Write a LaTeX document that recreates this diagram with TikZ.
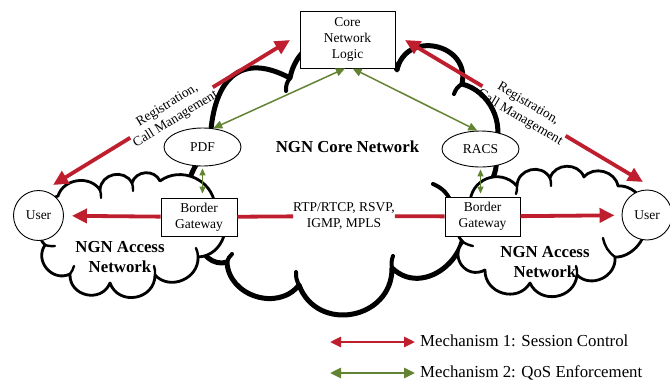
\documentclass[tikz,border=0pt]{standalone}
\usepackage{fontspec}
\setmainfont{Liberation Serif}
\usetikzlibrary{arrows.meta,shapes.geometric}
\definecolor{nred}{RGB}{190,30,45}
\definecolor{ngreen}{RGB}{98,132,50}
\newcommand\myfs{\fontsize{13.5}{16}\selectfont}
\newcommand\mybf{\fontsize{16.8}{20}\selectfont\bfseries}
\newcommand\mylg{\fontsize{16.8}{20}\selectfont}
\begin{document}
\begin{tikzpicture}[x=1pt,y=-1pt,
  corecloud/.style={draw=black, line width=5pt, fill=white, line join=round},
  acccloud/.style={draw=black, line width=2.8pt, fill=white, line join=round},
  corehook/.style={draw=black, line width=4pt, line cap=round},
  acchook/.style={draw=black, line width=2.4pt, line cap=round},
  box/.style={draw, fill=white, line width=0.9pt, align=center, font=\myfs, inner sep=1pt},
  ell/.style={ellipse, draw, fill=white, line width=0.9pt, font=\myfs, inner sep=0pt},
  usr/.style={circle, draw, fill=white, line width=0.9pt, font=\myfs, inner sep=0pt, minimum size=50pt},
  redarrow/.style={draw=nred, line width=3.8pt, -{Triangle[length=15pt,width=14pt]}},
  redline/.style={draw=nred, line width=3.8pt},
  garrow/.style={draw=ngreen, line width=1.5pt, {Triangle[length=9pt,width=8pt]}-{Triangle[length=9pt,width=8pt]}},
  gsarrow/.style={draw=ngreen, line width=1.3pt, {Triangle[length=7pt,width=6pt]}-{Triangle[length=7pt,width=6pt]}},
  legred/.style={draw=nred, line width=2.6pt, {Triangle[length=11pt,width=10pt]}-{Triangle[length=11pt,width=10pt]}},
  leggreen/.style={draw=ngreen, line width=2.6pt, {Triangle[length=11pt,width=10pt]}-{Triangle[length=11pt,width=10pt]}}
]
\useasboundingbox (0,0) rectangle (670,381);

% core cloud
\path[corecloud] (210,150)
  to[out=90, in=152, looseness=1.5] (290,78)
  to[bend left=75, looseness=1.3] (397,70)
  to[bend left=90, looseness=1.6] (462,84)
  to[bend left=50, looseness=1.0] (494,150)
  to[bend left=60, looseness=1.0] (452,205)
  to[bend left=90, looseness=1.5] (392,268)
  to[bend left=80, looseness=1.4] (299,285)
  to[bend left=70, looseness=1.15] (227,262)
  to[bend left=60, looseness=1.0] (200,240)
  to[bend left=50, looseness=0.9] cycle;
\draw[corehook] (290,78) to[bend right=20] (286,91);
\draw[corehook] (462,84) to[bend right=20] (454,94);
\draw[corehook] (452,205) to[bend right=25] (433,184);
\draw[corehook] (392,268) to[bend left=15] (393,256);
\draw[corehook] (299,285) to[bend left=15] (296,272);
\draw[corehook] (227,262) to[bend left=15] (232,254);

% left access cloud
\path[acccloud] (45,245)
  to[bend left=60, looseness=1.0] (58,196)
  to[bend left=65, looseness=1.1] (100,190)
  to[bend left=75, looseness=1.3] (132,183)
  to[bend left=70, looseness=1.2] (160,181)
  to[bend left=60, looseness=1.1] (215,205)
  to[bend left=70, looseness=1.2] (198,257)
  to[bend left=70, looseness=1.2] (155,275)
  to[bend left=80, looseness=1.4] (110,283)
  to[bend left=80, looseness=1.4] (70,274)
  to[bend left=75, looseness=1.3] cycle;
\draw[acchook] (100,190) to[bend left=10] (101,198);
\draw[acchook] (132,183) to[bend left=10] (133,191);
\draw[acchook] (198,257) to[bend right=10] (196,248);
\draw[acchook] (155,275) to[bend right=10] (154,266);
\draw[acchook] (70,274) to[bend right=10] (74,266);
\draw[acchook] (45,245) to[bend right=10] (55,246);

% right access cloud
\path[acccloud] (470,205)
  to[bend left=70, looseness=1.3] (517,186)
  to[bend left=75, looseness=1.3] (550,178)
  to[bend left=70, looseness=1.2] (584,177)
  to[bend left=65, looseness=1.1] (618,186)
  to[bend left=60, looseness=1.0] (645,225)
  to[bend left=50, looseness=0.9] (615,257)
  to[bend left=70, looseness=1.2] (577,275)
  to[bend left=75, looseness=1.3] (530,283)
  to[bend left=75, looseness=1.3] (485,270)
  to[bend left=80, looseness=1.5] (463,242)
  to[bend left=60, looseness=1.0] cycle;
\draw[acchook] (517,186) to[bend left=10] (516,194);
\draw[acchook] (550,178) to[bend left=10] (551,186);
\draw[acchook] (615,257) to[bend left=20] (603,238);
\draw[acchook] (577,275) to[bend right=10] (576,266);
\draw[acchook] (463,242) to[bend right=10] (473,246);

% nodes
\node[box, minimum width=95pt, minimum height=57pt] (cnl) at (347.5,39.5) {Core\\Network\\Logic};
\node[ell, minimum width=77pt, minimum height=38pt] (pdf) at (202.5,147) {PDF};
\node[ell, minimum width=77pt, minimum height=36pt] (racs) at (480.5,149) {RACS};
\node[box, minimum width=76pt, minimum height=38pt] (gwL) at (199,217) {Border\\Gateway};
\node[box, minimum width=75pt, minimum height=39pt] (gwR) at (482.5,216.5) {Border\\Gateway};
\node[usr] (userL) at (38.5,215.5) {User};
\node[usr] (userR) at (647,215) {User};

\node[font=\mybf] (ngncore) at (347.5,147) {NGN Core Network};
\node[font=\mybf, align=center] (accL) at (120,257) {NGN Access\\Network};
\node[font=\mybf, align=center] (accR) at (545,262) {NGN Access\\Network};

% green arrows
\draw[garrow] (cnl.265) -- (pdf.60);
\draw[garrow] (cnl.280) -- (racs.100);
\draw[gsarrow, shorten <=2pt, shorten >=4pt] (pdf.south) -- (pdf.south |- gwL.north);
\draw[gsarrow, shorten <=2pt, shorten >=3pt] (racs.south) -- (racs.south |- gwR.north);

% red arrows
\draw[redarrow, shorten >=8pt] (gwL) -- (userL);
\draw[redarrow, shorten >=7pt] (gwR) -- (userR);
\node[font=\myfs, align=center, inner sep=0pt] (rtp) at (344,216) {RTP/RTCP, RSVP,\\IGMP, MPLS};
\draw[redline] (gwL) -- (rtp);
\draw[redline] (rtp) -- (gwR);

\coordinate (la1) at (53,185);
\coordinate (la2) at (290,40);
\coordinate (ra1) at (405,40);
\coordinate (ra2) at (643,182);
\path (la1) -- node[sloped, font=\myfs, align=center, inner sep=0pt] (lblL) {Registration,\\Call Management} (la2);
\path (ra1) -- node[sloped, font=\myfs, align=center, inner sep=0pt] (lblR) {Registration,\\Call Management} (ra2);
\draw[redarrow] (lblL) -- (la1);
\draw[redarrow] (lblL) -- (la2);
\draw[redarrow] (lblR) -- (ra1);
\draw[redarrow] (lblR) -- (ra2);

% legend
\coordinate (lg1a) at (330,342);
\coordinate (lg2a) at (330,373);
\node[anchor=west, font=\mylg, inner sep=0pt] (lg1) at (420,341) {Mechanism 1: Session Control};
\node[anchor=west, font=\mylg, inner sep=0pt] (lg2) at (420,373) {Mechanism 2: QoS Enforcement};
\draw[legred, shorten >=5pt] (lg1a) -- (lg1a -| lg1.west);
\draw[leggreen, shorten >=5pt] (lg2a) -- (lg2a -| lg2.west);
\end{tikzpicture}
\end{document}
